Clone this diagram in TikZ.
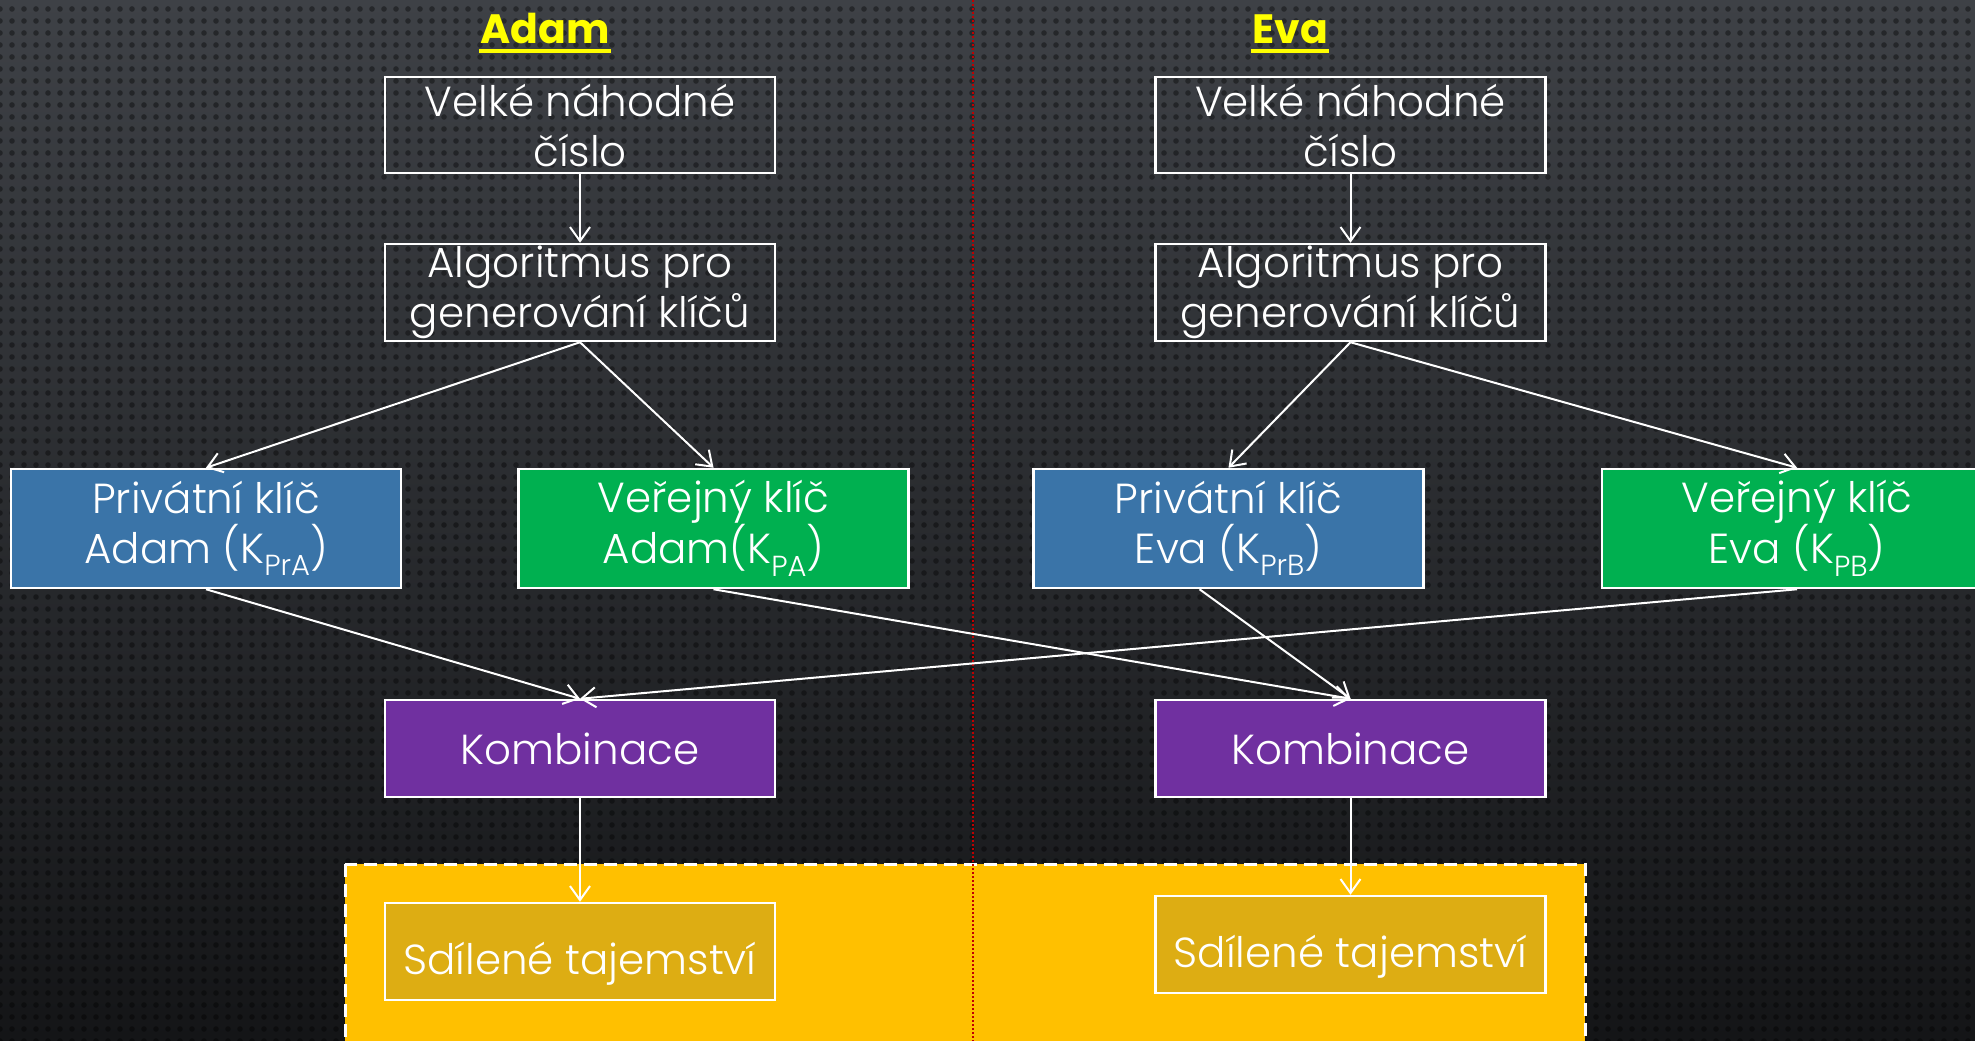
\documentclass[tikz,border=0pt]{standalone}
\usepackage{fontspec}
\setmainfont{Poppins}[UprightFont={* Light},BoldFont={* Bold}]
\usetikzlibrary{arrows.meta,calc,patterns.meta}
\definecolor{bgtop}{HTML}{3E4146}
\definecolor{bgbot}{HTML}{141517}
\definecolor{titley}{HTML}{FFFF00}
\definecolor{privblue}{HTML}{3A74A8}
\definecolor{pubgreen}{HTML}{00B050}
\definecolor{kombpurple}{HTML}{7030A0}
\definecolor{sharegold}{HTML}{FFC000}
\definecolor{sharebox}{HTML}{DDAD13}
\definecolor{sepred}{HTML}{C00000}
\newcommand\sbs[1]{\raisebox{-0.3em}{\fontsize{29}{29}\selectfont #1}}
\begin{document}
\begin{tikzpicture}[x=1pt,y=-1pt,
  box/.style={draw=white, line width=2.5pt, minimum width=390pt, text=white,
    align=center, font=\fontsize{42}{50}\selectfont, inner sep=0pt},
  sharedbox/.style={box, minimum height=97pt, fill=sharebox, text height=49pt, text depth=3pt},
  arr/.style={draw=white, line width=2pt, -{Straight Barb[length=14pt,width=20pt]}},
  title/.style={text=titley, font=\fontsize{41}{41}\selectfont\bfseries, inner sep=0pt, anchor=base},
  uline/.style={draw=titley, line width=4pt}
]
\useasboundingbox (0,0) rectangle (1975,1041);
% background
\fill[top color=bgtop, bottom color=bgbot] (0,0) rectangle (1975,1041);
\fill[pattern={Dots[distance=12pt,radius=2.8pt]}, pattern color=black, opacity=0.38] (0,0) rectangle (1975,1041);

% shared secret region
\draw[fill=sharegold, draw=white, line width=3pt, dash pattern=on 13pt off 7pt] (345,864) rectangle (1585,1070);

% separator
\draw[sepred, line width=1.2pt, dash pattern=on 2pt off 2pt] (973,0) -- (973,1041);

% titles
\node[title] (tA) at (545,44) {Adam};
\draw[uline] ($(tA.base west)+(-1,7)$) -- ($(tA.base east)+(1,7)$);
\node[title] (tE) at (1290,44) {Eva};
\draw[uline] ($(tE.base west)+(-1,7)$) -- ($(tE.base east)+(1,7)$);

% Adam side
\node[box, minimum height=96pt] (VA) at (580,125) {Velké náhodné\\číslo};
\node[box, minimum height=97pt] (AA) at (580,292.5) {Algoritmus pro\\generování klíčů};
\node[box, minimum height=119pt, fill=privblue] (PA) at (206,528.5) {Privátní klíč\\Adam (K\sbs{PrA})};
\node[box, minimum height=119pt, fill=pubgreen] (UA) at (713.5,528.5) {Veřejný klíč\\Adam(K\sbs{PA})};
\node[box, minimum height=97pt, fill=kombpurple] (KA) at (580,748.5) {Kombinace};
\node[sharedbox] (SA) at (580,951.5) {Sdílené tajemství};

% Eva side
\node[box, minimum height=96pt] (VE) at (1350.5,125) {Velké náhodné\\číslo};
\node[box, minimum height=97pt] (AE) at (1350.5,292.5) {Algoritmus pro\\generování klíčů};
\node[box, minimum height=119pt, fill=privblue] (PE) at (1228.5,528.5) {Privátní klíč\\Eva (K\sbs{PrB})};
\node[box, minimum height=119pt, fill=pubgreen] (UE) at (1797,528.5) {Veřejný klíč\\Eva (K\sbs{PB})};
\node[box, minimum height=97pt, fill=kombpurple] (KE) at (1350.5,748.5) {Kombinace};
\node[sharedbox] (SE) at (1350.5,944.5) {Sdílené tajemství};

% connectors
\draw[arr] (VA.south) -- (AA.north);
\draw[arr] (AA.south) -- (PA.north);
\draw[arr] (AA.south) -- (UA.north);
\draw[arr] (VE.south) -- (AE.north);
\draw[arr] (AE.south) -- (PE.north);
\draw[arr] (AE.south) -- (UE.north);
\draw[arr] (PA.south) -- (KA.north);
\draw[arr] (UE.south) -- (KA.north);
\draw[arr] (UA.south) -- (KE.north);
\draw[arr] ($(PE.south)+(-29,0)$) -- (KE.north);
\draw[arr] (KA.south) -- (SA.north);
\draw[arr] (KE.south) -- (SE.north);
\end{tikzpicture}
\end{document}
